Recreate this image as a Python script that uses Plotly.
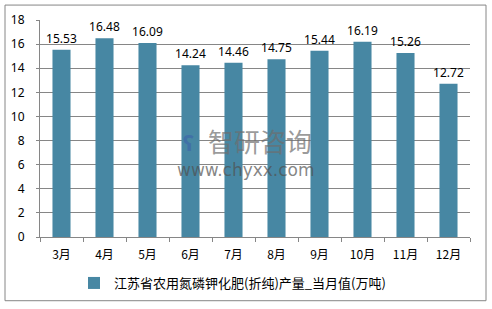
import plotly.graph_objects as go

months = ["3月", "4月", "5月", "6月", "7月", "8月", "9月", "10月", "11月", "12月"]
values = [15.53, 16.48, 16.09, 14.24, 14.46, 14.75, 15.44, 16.19, 15.26, 12.72]
series_name = "江苏省农用氮磷钾化肥(折纯)产量_当月值(万吨)"

W, H = 492, 309
L, R, T, B = 40, 22, 20, 71
pw, ph = W - L - R, H - T - B

def px(x):
    return (x - L) / pw

def py(y):
    return (H - B - y) / ph

font = "Noto Sans CJK SC, Noto Sans, sans-serif"

fig = go.Figure()
fig.add_trace(go.Bar(
    x=months, y=values, name=series_name,
    marker=dict(color="#4787a3", line=dict(width=0)),
    text=[f"{v:.2f}" for v in values], textposition="outside",
    constraintext="none",
    textfont=dict(size=12, color="#000000", family="Noto Sans, sans-serif"), cliponaxis=False,
    showlegend=True,
))

fig.update_layout(
    width=W, height=H,
    margin=dict(l=L, r=R, t=T, b=B),
    paper_bgcolor="white", plot_bgcolor="white",
    font=dict(family=font, size=12, color="#000000"),
    bargap=0.58,
    showlegend=True,
    legend=dict(orientation="h", x=px(74), xanchor="left", y=py(283), yanchor="middle",
                font=dict(size=13), bgcolor="rgba(0,0,0,0)", itemwidth=30),
    xaxis=dict(showline=True, linecolor="#868686", linewidth=1,
               ticks="outside", ticklen=4, tickcolor="#868686",
               tickson="boundaries", showgrid=False, tickfont=dict(size=12),
               ticklabelstandoff=7),
    yaxis=dict(range=[0, 18], dtick=2, showline=True, linecolor="#868686", linewidth=1,
               ticks="outside", ticklen=3, tickcolor="#868686",
               showgrid=True, gridcolor="#868686", gridwidth=1, zeroline=False,
               tickfont=dict(size=12, family="Noto Sans, sans-serif"),
               ticklabelstandoff=9),
    shapes=[dict(type="rect", xref="paper", yref="paper",
                 x0=px(5), x1=px(486), y0=py(302), y1=py(5),
                 line=dict(color="#868686", width=1), layer="below")],
    annotations=[
        dict(text="智研咨询", xref="paper", yref="paper", x=px(260), y=py(141),
             xanchor="center", yanchor="middle",
             showarrow=False, font=dict(size=26, color="rgba(110,110,110,0.7)", family=font)),
        dict(text="www.chyxx.com", xref="paper", yref="paper", x=px(246), y=py(171),
             xanchor="center", yanchor="middle",
             showarrow=False, font=dict(size=17, color="rgba(80,80,80,0.7)", family="DejaVu Sans")),
        dict(text="<b>ʕ</b>", xref="paper", yref="paper", x=px(188), y=py(142),
             xanchor="center", yanchor="middle",
             showarrow=False, font=dict(size=22, color="rgba(60,100,170,0.65)")),
    ],
)

fig.write_html("out.html")
